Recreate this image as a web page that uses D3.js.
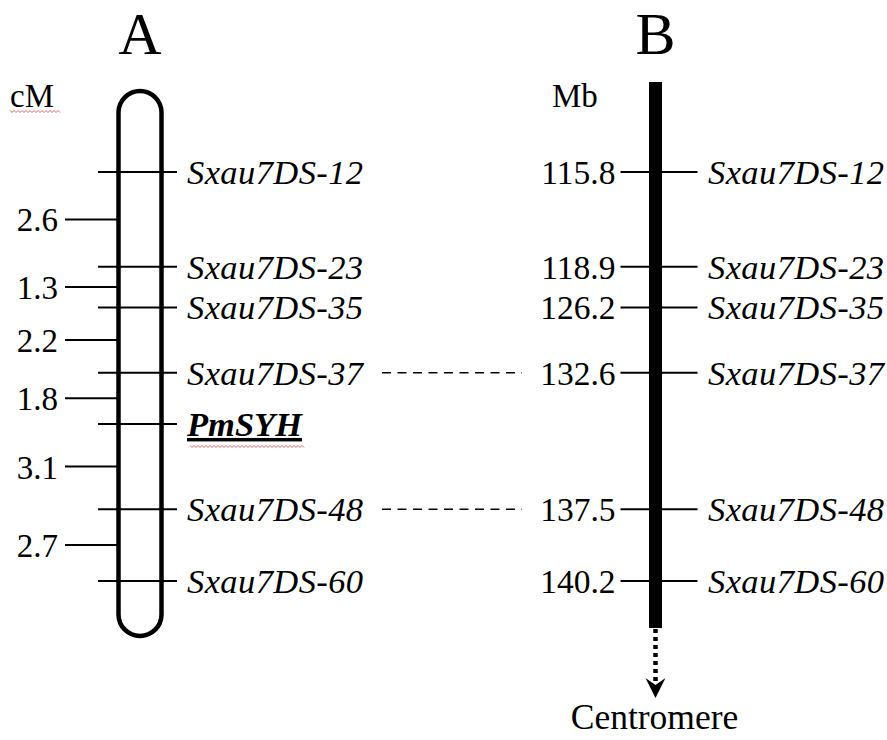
<!DOCTYPE html>
<html>
<head>
<meta charset="utf-8">
<script src="https://cdn.jsdelivr.net/npm/d3@7"></script>
<style>
  body { margin: 0; background: #fff; }
  text { font-family: "Liberation Serif", "Times New Roman", serif; fill: #000; }
</style>
</head>
<body>
<div id="chart"></div>
<script>
// Data
var markers = ["Sxau7DS-12", "Sxau7DS-23", "Sxau7DS-35", "Sxau7DS-37", "PmSYH", "Sxau7DS-48", "Sxau7DS-60"];
var intervalsCM = [2.6, 1.3, 2.2, 1.8, 3.1, 2.7];
var physMarkers = ["Sxau7DS-12", "Sxau7DS-23", "Sxau7DS-35", "Sxau7DS-37", "Sxau7DS-48", "Sxau7DS-60"];
var physMb = [115.8, 118.9, 126.2, 132.6, 137.5, 140.2];
var linked = ["Sxau7DS-37", "Sxau7DS-48"];
var geneName = "PmSYH";

var svgWidth = 887;
var svgHeight = 740;
var fontSize = 33;
var labelSize = 34.5;

var svg = d3.select("#chart")
  .append("svg")
  .attr("width", svgWidth)
  .attr("height", svgHeight);

// cumulative genetic position of each marker
var cumCM = [0].concat(Array.from(d3.cumsum(intervalsCM)));
var posByName = {};
markers.forEach(function(m, i) { posByName[m] = cumCM[i]; });

// map is drawn schematic, so a slightly compressed scale
var yScale = d3.scalePow()
  .exponent(0.88)
  .domain([0, d3.max(cumCM)])
  .range([172, 581]);

var yOf = function(name) { return yScale(posByName[name]); };

// red spell-check squiggle
function squiggle(x0, x1, y) {
  var pts = [];
  for (var x = x0, k = 0; x <= x1; x += 2, k++) {
    pts.push([x, y + (k % 2 ? 1.5 : -0.5)]);
  }
  return d3.line()(pts);
}

// ---------- A: genetic map ----------
var xA = 140;
var aGroup = svg.append("g");

aGroup.append("text")
  .attr("x", xA)
  .attr("y", 53.5)
  .attr("text-anchor", "middle")
  .attr("font-size", 60)
  .text("A");

aGroup.append("text")
  .attr("x", 10)
  .attr("y", 107)
  .attr("font-size", fontSize)
  .text("cM");

aGroup.append("path")
  .attr("d", squiggle(10, 60, 111))
  .attr("fill", "none")
  .attr("stroke", "#e06666")
  .attr("stroke-width", 1);

// chromosome outline
var chrTop = yScale.range()[0] - 81;
var chrBottom = yScale.range()[1] + 55;
aGroup.append("rect")
  .attr("x", xA - 21.5)
  .attr("y", chrTop)
  .attr("width", 43)
  .attr("height", chrBottom - chrTop)
  .attr("rx", 21.5)
  .attr("fill", "none")
  .attr("stroke", "#000")
  .attr("stroke-width", 4.5);

// marker lines
aGroup.selectAll(".markerA")
  .data(markers)
  .enter()
  .append("line")
  .attr("x1", xA - 42)
  .attr("x2", xA + 37)
  .attr("y1", d => yOf(d))
  .attr("y2", d => yOf(d))
  .attr("stroke", "#000")
  .attr("stroke-width", 2);

aGroup.selectAll(".labelA")
  .data(markers)
  .enter()
  .append("text")
  .attr("x", 187)
  .attr("y", d => yOf(d) + 12)
  .attr("font-size", labelSize)
  .attr("font-style", "italic")
  .attr("letter-spacing", d => d === geneName ? 0 : 0.4)
  .attr("font-weight", d => d === geneName ? "bold" : "normal")
  .attr("text-decoration", d => d === geneName ? "underline" : null)
  .text(d => d);

// squiggle under the gene name
aGroup.append("path")
  .attr("d", squiggle(190, 304, yOf(geneName) + 22))
  .attr("fill", "none")
  .attr("stroke", "#e06666")
  .attr("stroke-width", 1);

// interval distances, between adjacent markers
var intervals = intervalsCM.map(function(v, i) {
  return { value: v, y: (yOf(markers[i]) + yOf(markers[i + 1])) / 2 };
});

aGroup.selectAll(".tick")
  .data(intervals)
  .enter()
  .append("line")
  .attr("x1", 65)
  .attr("x2", xA - 23)
  .attr("y1", d => d.y)
  .attr("y2", d => d.y)
  .attr("stroke", "#000")
  .attr("stroke-width", 2);

aGroup.selectAll(".tickLabel")
  .data(intervals)
  .enter()
  .append("text")
  .attr("x", 58)
  .attr("y", d => d.y + 12)
  .attr("text-anchor", "end")
  .attr("font-size", fontSize)
  .text(d => d3.format(".1f")(d.value));

// ---------- B: physical map ----------
var xB = 655.5;
var bGroup = svg.append("g");

bGroup.append("text")
  .attr("x", xB)
  .attr("y", 53.5)
  .attr("text-anchor", "middle")
  .attr("font-size", 60)
  .text("B");

bGroup.append("text")
  .attr("x", 552)
  .attr("y", 107)
  .attr("font-size", fontSize)
  .text("Mb");

var barBottom = yScale.range()[1] + 47;
bGroup.append("rect")
  .attr("x", xB - 6.5)
  .attr("y", 82)
  .attr("width", 13)
  .attr("height", barBottom - 82)
  .attr("fill", "#000");

// dotted arrow towards centromere
bGroup.append("line")
  .attr("x1", xB)
  .attr("x2", xB)
  .attr("y1", barBottom + 1)
  .attr("y2", barBottom + 54)
  .attr("stroke", "#000")
  .attr("stroke-width", 4.5)
  .attr("stroke-dasharray", "4,4");

bGroup.append("path")
  .attr("d", `M${xB},${barBottom + 70} L${xB - 10},${barBottom + 50} L${xB},${barBottom + 57} L${xB + 10},${barBottom + 50} Z`)
  .attr("fill", "#000");

bGroup.append("text")
  .attr("x", xB - 1)
  .attr("y", barBottom + 101)
  .attr("text-anchor", "middle")
  .attr("font-size", 35.5)
  .text("Centromere");

var physData = physMarkers.map(function(m, i) { return { name: m, mb: physMb[i] }; });

bGroup.selectAll(".markerB")
  .data(physData)
  .enter()
  .append("line")
  .attr("x1", xB - 35)
  .attr("x2", xB + 42)
  .attr("y1", d => yOf(d.name))
  .attr("y2", d => yOf(d.name))
  .attr("stroke", "#000")
  .attr("stroke-width", 2);

bGroup.selectAll(".mbLabel")
  .data(physData)
  .enter()
  .append("text")
  .attr("x", xB - 40)
  .attr("y", d => yOf(d.name) + 12)
  .attr("text-anchor", "end")
  .attr("font-size", 33.5)
  .text(d => d3.format(".1f")(d.mb));

bGroup.selectAll(".labelB")
  .data(physData)
  .enter()
  .append("text")
  .attr("x", 708)
  .attr("y", d => yOf(d.name) + 12)
  .attr("font-size", labelSize)
  .attr("font-style", "italic")
  .attr("letter-spacing", 0.4)
  .text(d => d.name);

// dashed links between the two maps
svg.selectAll(".link")
  .data(linked)
  .enter()
  .append("line")
  .attr("x1", 382)
  .attr("x2", 522)
  .attr("y1", d => yOf(d))
  .attr("y2", d => yOf(d))
  .attr("stroke", "#000")
  .attr("stroke-width", 1.5)
  .attr("stroke-dasharray", "9,6.5");
</script>
</body>
</html>
